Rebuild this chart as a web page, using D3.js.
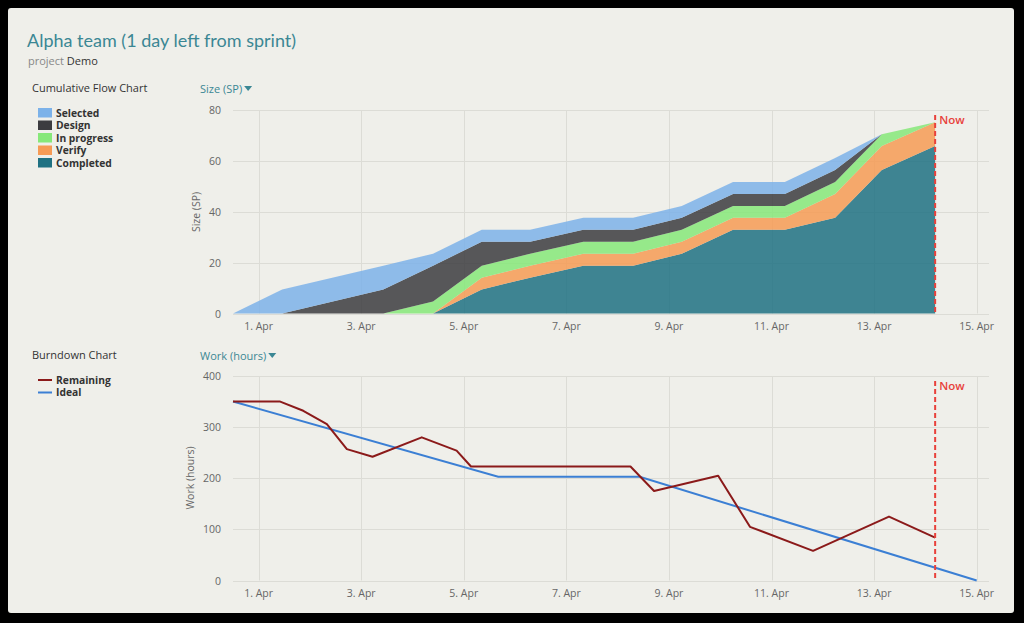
<!DOCTYPE html>
<html><head><meta charset="utf-8">
<script src="https://cdn.jsdelivr.net/npm/d3@7"></script>
<style>
html,body{margin:0;padding:0;background:#000;}
svg{display:block;}
</style></head>
<body><svg id="c" width="1024" height="623" font-family="'Open Sans', Lato, sans-serif"></svg>
<script>
// ---------- data ----------
const cfdTimes = ["2014-03-31 12:00","2014-04-01 11:00","2014-04-03 10:20","2014-04-04 09:36","2014-04-05 08:24","2014-04-06 07:00","2014-04-07 07:55","2014-04-08 07:12","2014-04-09 06:00","2014-04-10 06:00","2014-04-11 06:14","2014-04-12 05:46","2014-04-13 03:36","2014-04-14 04:34"];
const completed  = [0,0,0,0,9.4,14.1,18.8,18.8,23.5,32.9,32.9,37.6,56.4,65.8];
const verify     = [0,0,0,0,4.7,4.7,4.7,4.7,4.7,4.7,4.7,9.4,9.4,9.4];
const inProgress = [0,0,0,4.7,4.7,4.7,4.7,4.7,4.7,4.7,4.7,4.7,4.7,0];
const design     = [0,0,9.4,14.1,9.4,4.7,4.7,4.7,4.7,4.7,4.7,4.7,0,0];
const selected   = [0,9.4,9.4,4.7,4.7,4.7,4.7,4.7,4.7,4.7,4.7,4.7,0,0];
const cfdSeries = ["Completed","Verify","In progress","Design","Selected"];
const cfdLegend = ["Selected","Design","In progress","Verify","Completed"];

const remainingTimes = ["2014-03-31 12:00","2014-04-01 10:05","2014-04-01 20:53","2014-04-02 07:55","2014-04-02 17:17","2014-04-03 05:17","2014-04-04 04:19","2014-04-04 20:38","2014-04-05 03:22","2014-04-08 06:00","2014-04-08 17:02","2014-04-09 23:02","2014-04-10 13:55","2014-04-11 19:26","2014-04-13 06:58","2014-04-14 04:34"];
const remainingValues = [350,350,332,306,257,242,280,254,223,223,175,205,105,58,125,84];
const idealTimes = ["2014-03-31 12:00","2014-04-05 16:05","2014-04-08 10:19","2014-04-15 00:00"];
const idealValues = [350,203,203,0];

const nowTime = "2014-04-14 04:34";
const xDomain = ["2014-03-31 12:00","2014-04-15 05:46"];
const xTickDates = ["2014-04-01 00:00","2014-04-03 00:00","2014-04-05 00:00","2014-04-07 00:00","2014-04-09 00:00","2014-04-11 00:00","2014-04-13 00:00","2014-04-15 00:00"];
const xTickLabels = ["1. Apr","3. Apr","5. Apr","7. Apr","9. Apr","11. Apr","13. Apr","15. Apr"];
const cfdYTicks = [0,20,40,60,80];
const bdYTicks = [0,100,200,300,400];

// ---------- styles ----------
const colors = {"Selected":"#7cb2e9","Design":"#3c3c40","In progress":"#86e879","Verify":"#f69b55","Completed":"#1f7182"};
const bg = "#efefea", grid = "#dcdcd6", teal = "#3b8794", nowColor = "#e8413b";

const parse = d3.timeParse("%Y-%m-%d %H:%M");
const svg = d3.select("#c");
svg.append("rect").attr("x",8).attr("y",8).attr("width",1006).attr("height",605).attr("rx",3).attr("fill",bg);

// header
svg.append("text").attr("x",27).attr("y",47).style("font-family","Lato, sans-serif").attr("font-size",18).attr("fill",teal).text("Alpha team (1 day left from sprint)");
const sub = svg.append("text").attr("x",28).attr("y",65).attr("font-size",11);
sub.append("tspan").attr("fill","#888").text("project ");
sub.append("tspan").attr("fill","#333").text("Demo");

const x = d3.scaleTime().domain(xDomain.map(parse)).range([233,989]);

function frame(y, ticks, top, bottom){
  const g = svg.append("g");
  g.selectAll("line.h").data(ticks).join("line")
    .attr("x1",233).attr("x2",989).attr("y1",d=>Math.round(y(d))+0.5).attr("y2",d=>Math.round(y(d))+0.5)
    .attr("stroke",grid).attr("stroke-width",1);
  g.selectAll("line.v").data(xTickDates.map(parse)).join("line")
    .attr("x1",d=>Math.round(x(d))+0.5).attr("x2",d=>Math.round(x(d))+0.5).attr("y1",top).attr("y2",bottom)
    .attr("stroke",grid).attr("stroke-width",1);
  g.selectAll("text.y").data(ticks).join("text")
    .attr("x",221).attr("y",d=>y(d)+4).attr("text-anchor","end").attr("font-size",10.5).attr("fill","#666").text(d=>d);
  g.selectAll("text.x").data(xTickDates).join("text")
    .attr("x",d=>x(parse(d))).attr("y",bottom+16).attr("text-anchor","middle").attr("font-size",10.5).attr("fill","#666")
    .text((d,i)=>xTickLabels[i]);
}

function dropTitle(tx, ty, label){
  const t = svg.append("text").attr("x",tx).attr("y",ty).attr("font-size",11).attr("fill",teal).text(label);
  const w = t.node().getComputedTextLength();
  const ax = tx + w + 2;
  svg.append("path").attr("d",`M${ax},${ty-7}L${ax+8},${ty-7}L${ax+4},${ty-2}Z`).attr("fill",teal);
}

// ---------- Cumulative flow ----------
const y1 = d3.scaleLinear().domain([0,80]).range([313.5,110]);
frame(y1, cfdYTicks, 110, 313.5);
const rows = cfdTimes.map((t,i)=>({t:parse(t),"Completed":completed[i],"Verify":verify[i],"In progress":inProgress[i],"Design":design[i],"Selected":selected[i]}));
const stacked = d3.stack().keys(cfdSeries)(rows);
const area = d3.area().x(d=>x(d.data.t)).y0(d=>y1(d[0])).y1(d=>y1(d[1]));
svg.append("g").selectAll("path").data(stacked).join("path")
  .attr("d",area).attr("fill",d=>colors[d.key]).attr("fill-opacity",0.85);

svg.append("text").attr("x",32).attr("y",92).attr("font-size",11).attr("fill","#333").text("Cumulative Flow Chart");
dropTitle(200, 93, "Size (SP)");
svg.append("text").attr("transform","translate(200,212) rotate(-90)").attr("text-anchor","middle").attr("font-size",10.5).attr("fill","#666").text("Size (SP)");

const lg = svg.append("g");
cfdLegend.forEach((k,i)=>{
  lg.append("rect").attr("x",38).attr("y",108+i*12.5).attr("width",14).attr("height",9.5).attr("fill",colors[k]);
  lg.append("text").attr("x",56).attr("y",116.5+i*12.5).attr("font-size",10.3).attr("font-weight","bold").attr("fill","#333").text(k);
});

// ---------- Burndown ----------
const y2 = d3.scaleLinear().domain([0,400]).range([580.5,376]);
frame(y2, bdYTicks, 376, 580.5);
const line = d3.line().x(d=>x(d[0])).y(d=>y2(d[1]));
svg.append("path").datum(idealTimes.map((t,i)=>[parse(t),idealValues[i]]))
  .attr("d",line).attr("fill","none").attr("stroke","#3b7fd4").attr("stroke-width",2);
svg.append("path").datum(remainingTimes.map((t,i)=>[parse(t),remainingValues[i]]))
  .attr("d",line).attr("fill","none").attr("stroke","#8b1a1a").attr("stroke-width",2).attr("stroke-linejoin","round");

svg.append("text").attr("x",32).attr("y",359).attr("font-size",11).attr("fill","#333").text("Burndown Chart");
dropTitle(200, 360, "Work (hours)");
svg.append("text").attr("transform","translate(194,478) rotate(-90)").attr("text-anchor","middle").attr("font-size",10.5).attr("fill","#666").text("Work (hours)");

[["Remaining","#8b1a1a"],["Ideal","#3b7fd4"]].forEach((d,i)=>{
  svg.append("line").attr("x1",38).attr("x2",52).attr("y1",380+i*12.5).attr("y2",380+i*12.5).attr("stroke",d[1]).attr("stroke-width",2);
  svg.append("text").attr("x",56).attr("y",383.5+i*12.5).attr("font-size",10.3).attr("font-weight","bold").attr("fill","#333").text(d[0]);
});

// ---------- Now lines ----------
const nx = x(parse(nowTime));
[[115,313.5,124],[381,580.5,390]].forEach(([a,b,ty])=>{
  svg.append("line").attr("x1",nx).attr("x2",nx).attr("y1",a).attr("y2",b)
    .attr("stroke",nowColor).attr("stroke-width",2).attr("stroke-dasharray","5,3");
  svg.append("text").attr("x",nx+4).attr("y",ty).attr("font-size",11.5).attr("font-weight",600).attr("fill",nowColor).text("Now");
});
</script></body></html>
